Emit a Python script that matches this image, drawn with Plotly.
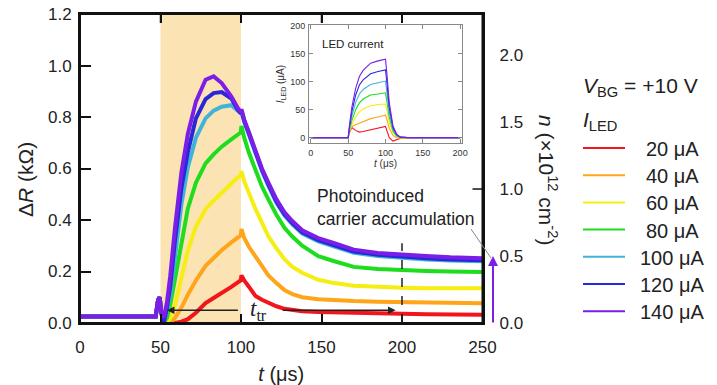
import plotly.graph_objects as go

# ---------------- data ----------------
labels = ["20 μA", "40 μA", "60 μA", "80 μA", "100 μA", "120 μA", "140 μA"]
colors = ["#F2151B", "#FFA51A", "#F6EE12", "#1EDC1E", "#40B4D8", "#2828D8", "#7B1FE8"]

t_main = [0, 47, 48.5, 49.5, 50.5, 52, 54, 56, 59, 63, 67, 72, 78, 83, 88, 94, 98, 99.8,
          100.3, 102, 105, 109, 113, 117, 122, 127, 132, 138, 148, 158, 170, 185, 200, 215, 230, 250]

dR_20 = [0.025, 0.025, 0.09, 0.10, 0.04, 0.0, 0.0, 0.0, 0.0, 0.005, 0.015, 0.04, 0.077, 0.097, 0.115, 0.14, 0.158, 0.165,
         0.185, 0.165, 0.14, 0.105, 0.09, 0.078, 0.065, 0.055, 0.05, 0.046, 0.043, 0.041, 0.04, 0.038, 0.036, 0.034, 0.033, 0.032]
dR_40 = [0.025, 0.025, 0.09, 0.10, 0.04, 0.0, 0.0, 0.0, 0.02, 0.06, 0.11, 0.165, 0.222, 0.255, 0.283, 0.313, 0.335, 0.34,
         0.365, 0.33, 0.295, 0.258, 0.225, 0.185, 0.155, 0.128, 0.112, 0.1, 0.092, 0.088, 0.085, 0.083, 0.082, 0.08, 0.078, 0.077]
dR_60 = [0.025, 0.025, 0.09, 0.10, 0.04, 0.0, 0.0, 0.02, 0.07, 0.175, 0.28, 0.375, 0.442, 0.475, 0.504, 0.54, 0.566, 0.57,
         0.59, 0.55, 0.5, 0.443, 0.39, 0.337, 0.29, 0.248, 0.218, 0.195, 0.168, 0.155, 0.145, 0.14, 0.137, 0.135, 0.135, 0.135]
dR_80 = [0.025, 0.025, 0.09, 0.10, 0.04, 0.0, 0.02, 0.07, 0.17, 0.31, 0.445, 0.545, 0.62, 0.655, 0.685, 0.713, 0.735, 0.74,
         0.765, 0.72, 0.66, 0.59, 0.53, 0.48, 0.42, 0.37, 0.335, 0.3, 0.26, 0.24, 0.218, 0.21, 0.205, 0.202, 0.2, 0.198]
dR_100 = [0.025, 0.025, 0.09, 0.10, 0.04, 0.0, 0.05, 0.11, 0.255, 0.462, 0.605, 0.72, 0.795, 0.825, 0.84, 0.846, 0.825, 0.815,
          0.82, 0.78, 0.73, 0.66, 0.59, 0.532, 0.467, 0.417, 0.382, 0.347, 0.317, 0.297, 0.273, 0.26, 0.252, 0.247, 0.243, 0.24]
dR_120 = [0.025, 0.025, 0.09, 0.10, 0.04, 0.0, 0.06, 0.14, 0.32, 0.525, 0.665, 0.795, 0.87, 0.893, 0.897, 0.872, 0.828, 0.815,
          0.825, 0.785, 0.735, 0.665, 0.595, 0.538, 0.472, 0.422, 0.387, 0.352, 0.322, 0.302, 0.278, 0.265, 0.257, 0.252, 0.247, 0.244]
dR_140 = [0.025, 0.025, 0.09, 0.10, 0.04, 0.02, 0.08, 0.18, 0.37, 0.585, 0.735, 0.86, 0.945, 0.958, 0.932, 0.88, 0.835, 0.82,
          0.83, 0.79, 0.74, 0.67, 0.60, 0.545, 0.48, 0.43, 0.395, 0.36, 0.33, 0.31, 0.285, 0.272, 0.265, 0.26, 0.255, 0.252]
dR_series = [dR_20, dR_40, dR_60, dR_80, dR_100, dR_120, dR_140]

# inset: LED current (μA)
t_led = [0, 50, 52, 55, 60, 65, 70, 80, 90, 100, 102, 105, 110, 115, 120, 130, 200]
led_20 = [0, 0, 10, 18, 13, 10, 11, 14, 17, 20, 12, 0, -6, -4, -1, 0, 0]
led_40 = [0, 0, 12, 20, 23, 26, 29, 34, 37, 40, 32, 17, 4, 0, -1, 0, 0]
led_60 = [0, 0, 12, 23, 37, 46, 51, 57, 59, 60, 48, 27, 9, 2, 0, 0, 0]
led_80 = [0, 0, 15, 31, 50, 62, 69, 76, 78, 80, 64, 36, 12, 3, 0, 0, 0]
led_100 = [0, 0, 18, 39, 63, 78, 86, 95, 98, 101, 80, 45, 15, 4, 1, 0, 0]
led_120 = [0, 0, 22, 47, 76, 94, 103, 114, 118, 121, 97, 54, 18, 5, 1, 0, 0]
led_140 = [0, 0, 25, 55, 88, 109, 120, 133, 137, 140, 112, 63, 21, 6, 1, 0, 0]
led_series = [led_20, led_40, led_60, led_80, led_100, led_120, led_140]

x_ticks = [0, 50, 100, 150, 200, 250]
y_ticks = [0.0, 0.2, 0.4, 0.6, 0.8, 1.0, 1.2]
n_ticks = [0.0, 0.5, 1.0, 1.5, 2.0]
inset_ticks = [0, 50, 100, 150, 200]

# ---------------- figure ----------------
# the page body adds an 8 px margin, so the figure is sized to the remaining window
OFF = 8
WIN_W, WIN_H = 717, 385
W, H = WIN_W - OFF, WIN_H - OFF
FONT = "Liberation Sans, Arial, sans-serif"

def px(x):
    return (x - OFF) / W

def py(y):
    return (WIN_H - y) / H

fig = go.Figure()

for lab, col, ys in zip(labels, colors, dR_series):
    fig.add_trace(go.Scatter(x=t_main, y=ys, mode="lines", name=lab,
                             line=dict(color=col, width=4),
                             xaxis="x", yaxis="y", showlegend=False))

fig.add_trace(go.Scatter(x=[], y=[], xaxis="x", yaxis="y2", showlegend=False,
                         hoverinfo="skip"))

for lab, col, ys in zip(labels, colors, led_series):
    fig.add_trace(go.Scatter(x=t_led, y=ys, mode="lines", name=lab,
                             line=dict(color=col, width=1.1),
                             xaxis="x2", yaxis="y3", showlegend=False))

main_xd = [px(80), px(482.5)]
main_yd = [py(323), py(14)]
ins_xd = [px(309), px(462)]
ins_yd = [py(143), py(25)]

fig.update_layout(
    width=W, height=H,
    margin=dict(l=0, r=0, t=0, b=0),
    paper_bgcolor="white", plot_bgcolor="white",
    font=dict(family=FONT, color="#222"),
    xaxis=dict(domain=main_xd, range=[0, 250.0001], tickvals=x_ticks,
               ticks="inside", ticklen=9, tickwidth=1.5, tickcolor="#111",
               showline=True, linecolor="#111", linewidth=2, mirror="ticks",
               showgrid=False, zeroline=False, automargin=False,
               tickfont=dict(size=17), ticklabelstandoff=8, ticklabeloverflow="allow",
               title=dict(text="<i>t</i> (μs)", font=dict(size=20), standoff=12)),
    yaxis=dict(domain=main_yd, range=[0, 1.2003], tickvals=y_ticks, tickformat=".1f",
               ticks="inside", ticklen=11, tickwidth=1.5, tickcolor="#111",
               showline=True, linecolor="#111", linewidth=2, mirror=True,
               showgrid=False, zeroline=False, automargin=False,
               tickfont=dict(size=17), ticklabelstandoff=3, ticklabeloverflow="allow"),
    yaxis2=dict(overlaying="y", side="right", anchor="x", range=[0, 2.3065],
                tickvals=n_ticks, tickformat=".1f", ticks="",
                showline=False, showgrid=False, zeroline=False, automargin=False,
                tickfont=dict(size=17), ticklabelstandoff=16, ticklabeloverflow="allow"),
    xaxis2=dict(domain=ins_xd, anchor="y3", range=[-2.5, 202.5], tickvals=inset_ticks,
                ticks="inside", ticklen=4, tickcolor="#888",
                showline=True, linecolor="#888", linewidth=1, mirror="ticks",
                showgrid=False, zeroline=False, automargin=False,
                tickfont=dict(size=9, color="#333"), ticklabelstandoff=1,
                title=dict(text="<i>t</i> (μs)", font=dict(size=10, color="#333"), standoff=2)),
    yaxis3=dict(domain=ins_yd, anchor="x2", range=[-9.5, 201], tickvals=inset_ticks,
                ticks="inside", ticklen=4, tickcolor="#888",
                showline=True, linecolor="#888", linewidth=1, mirror="ticks",
                showgrid=False, zeroline=False, automargin=False,
                tickfont=dict(size=9, color="#333"), ticklabelstandoff=1,
                title=dict(text="<i>I</i><sub>LED</sub> (μA)", font=dict(size=10, color="#333"), standoff=3)),
)

shapes = []
# photo-excitation window
shapes.append(dict(type="rect", xref="x", yref="y", x0=50, x1=100, y0=0, y1=1.2,
                   fillcolor="#FBE3B3", line=dict(width=0), layer="below"))
# frame of the main panel
shapes.append(dict(type="rect", xref="x domain", yref="y domain", x0=0, x1=1, y0=0, y1=1,
                   line=dict(color="#111", width=2), fillcolor="rgba(0,0,0,0)", layer="above"))
# mirrored top ticks
for xv in x_ticks[1:-1]:
    shapes.append(dict(type="line", xref="x", yref="y domain", x0=xv, x1=xv, y0=1, y1=1 - 9 / 309,
                       line=dict(color="#111", width=1.5)))
# dashed marker at t = 200
shapes.append(dict(type="line", xref="x", yref="y", x0=200, x1=200, y0=0, y1=0.31,
                   line=dict(color="#222", width=1.5, dash="dash")))
# right-axis tick at n = 1.0
shapes.append(dict(type="line", xref="paper", yref="y2", x0=main_xd[1] - 10 / W, x1=main_xd[1],
                   y0=1.0, y1=1.0, line=dict(color="#111", width=1.5)))
# leader line to purple arrow
shapes.append(dict(type="line", xref="paper", yref="paper", x0=px(471), y0=py(229),
                   x1=px(491), y1=py(258), line=dict(color="#888", width=1)))

annotations = []
# left axis title
annotations.append(dict(x=px(25), y=py(180), xref="paper", yref="paper", showarrow=False,
                        textangle=-90, text="Δ<i>R</i> (kΩ)", xanchor="center", yanchor="middle",
                        font=dict(size=21, color="#222")))
# t_tr arrows and label
annotations.append(dict(x=54, y=0.05, ax=99, ay=0.05, xref="x", yref="y", axref="x", ayref="y",
                        showarrow=True, arrowhead=2, arrowsize=1, arrowwidth=1.5,
                        arrowcolor="#222", text=""))
annotations.append(dict(x=196, y=0.05, ax=125, ay=0.05, xref="x", yref="y", axref="x", ayref="y",
                        showarrow=True, arrowhead=2, arrowsize=1, arrowwidth=1.5,
                        arrowcolor="#222", text=""))
annotations.append(dict(x=111, y=0.05, xref="x", yref="y", showarrow=False,
                        text="<i>t</i><sub>tr</sub>", xanchor="center", yanchor="middle",
                        font=dict(family="Liberation Serif, Times New Roman, serif", size=23, color="#222")))
# photoinduced text
annotations.append(dict(x=px(315), y=py(207), xref="paper", yref="paper", showarrow=False,
                        text="Photoinduced<br>carrier accumulation", align="left",
                        xanchor="left", yanchor="middle", font=dict(size=17.5, color="#222")))
# purple arrow beside the right axis
annotations.append(dict(x=px(493), y=py(256), xref="paper", yref="paper", ax=0, ay=68,
                        showarrow=True, arrowhead=2, arrowsize=1, arrowwidth=2,
                        arrowcolor=colors[-1], text=""))
# right axis title
annotations.append(dict(x=px(548), y=py(180), xref="paper", yref="paper", showarrow=False,
                        textangle=90, text="<i>n</i> (×10<sup>12</sup> cm<sup>-2</sup>)",
                        xanchor="center", yanchor="middle",
                        font=dict(size=21, color="#222")))
# inset label
annotations.append(dict(x=px(320), y=py(44), xref="paper", yref="paper", showarrow=False,
                        text="LED current", xanchor="left", yanchor="middle",
                        font=dict(size=11.5, color="#222")))
# legend heading
annotations.append(dict(x=px(581), y=py(87), xref="paper", yref="paper", showarrow=False,
                        text="<i>V</i><sub>BG</sub> = +10 V", xanchor="left", yanchor="middle",
                        font=dict(size=21, color="#222")))
annotations.append(dict(x=px(581), y=py(121), xref="paper", yref="paper", showarrow=False,
                        text="<i>I</i><sub>LED</sub>", xanchor="left", yanchor="middle",
                        font=dict(size=21, color="#222")))

leg_y0, leg_dy = 148, 27.2
for i, (lab, col) in enumerate(zip(labels, colors)):
    yy = leg_y0 + i * leg_dy
    shapes.append(dict(type="line", xref="paper", yref="paper", x0=px(583), x1=px(625),
                       y0=py(yy), y1=py(yy), line=dict(color=col, width=2)))
    annotations.append(dict(x=px(672), y=py(yy + 1), xref="paper", yref="paper", showarrow=False,
                            text=lab, xanchor="center", yanchor="middle",
                            font=dict(size=20, color="#222")))

fig.update_layout(shapes=shapes, annotations=annotations)

fig.write_html("out.html")
